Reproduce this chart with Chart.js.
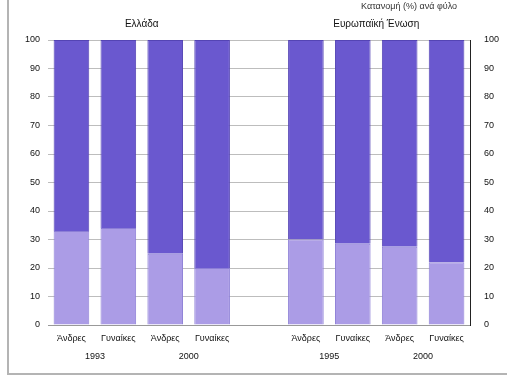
<!DOCTYPE html>
<html>
<head>
<meta charset="utf-8">
<script src="https://cdn.jsdelivr.net/npm/chart.js@4/dist/chart.umd.min.js"></script>
<style>
  html, body { margin: 0; padding: 0; background: #fff; }
  #wrap { position: relative; width: 508px; height: 379px; }
  #frame { position: absolute; left: 7px; top: 0; width: 498px; height: 373px;
           border-left: 2px solid #b4b4b4; border-bottom: 2px solid #b4b4b4; }
  canvas { position: absolute; left: 0; top: 0; }
</style>
</head>
<body>
<div id="wrap">
  <div id="frame"></div>
  <canvas id="chart" width="508" height="379"></canvas>
</div>
<script>
// per-bar labels (empty slot separates the two groups)
var categories = ["Άνδρες", "Γυναίκες", "Άνδρες", "Γυναίκες", "", "Άνδρες", "Γυναίκες", "Άνδρες", "Γυναίκες"];
var lowerShare = [33, 34, 25, 20, null, 30, 28.5, 27.5, 22];
var upperShare = [67, 66, 75, 80, null, 70, 71.5, 72.5, 78];

// years sit between each pair of bars
var yearLabels = ["1993", "2000", "1995", "2000"];
var yearPos = [0.5, 2.5, 5.5, 7.5];

var groupLabels = ["Ελλάδα", "Ευρωπαϊκή Ένωση"];
var groupPos = [1.5, 6.5];
var noteLabel = "Κατανομή (%) ανά φύλο";
var notePos = 7.2;

var yTicks = [0, 10, 20, 30, 40, 50, 60, 70, 80, 90, 100];

var font = { family: "Liberation Sans", size: 9 };

function fixedTicks(positions) {
  return function (scale) {
    scale.ticks = positions.map(function (v) { return { value: v }; });
  };
}
function labelAt(positions, labels) {
  return function (value) {
    var i = positions.indexOf(value);
    return i >= 0 ? labels[i] : "";
  };
}
// linear helper axes spanning the same range as the bar categories
function sideAxis(extra) {
  var base = {
    type: "linear",
    min: -0.5,
    max: 8.5,
    offset: false,
    grid: { display: false, drawTicks: false },
    border: { display: false }
  };
  return Object.assign(base, extra);
}

new Chart(document.getElementById("chart"), {
  type: "bar",
  data: {
    labels: categories,
    datasets: [
      {
        label: "lower",
        data: lowerShare,
        backgroundColor: "#ab9ce6",
        borderColor: "#8c7ed6",
        borderWidth: 1,
        barPercentage: 0.76,
        categoryPercentage: 1
      },
      {
        label: "upper",
        data: upperShare,
        backgroundColor: "#6a58cf",
        borderColor: "#5444b4",
        borderWidth: 1,
        barPercentage: 0.76,
        categoryPercentage: 1
      }
    ]
  },
  options: {
    responsive: false,
    animation: false,
    layout: { padding: { left: 12, right: 8, top: 1, bottom: 12 } },
    plugins: { legend: { display: false }, tooltip: { enabled: false } },
    scales: {
      x: {
        stacked: true,
        grid: { display: false, drawTicks: false },
        border: { color: "#999" },
        weight: 1,
        ticks: { color: "#111", font: font, autoSkip: false, maxRotation: 0, padding: 8 },
        afterFit: function (s) { s.height = 20; }
      },
      years: sideAxis({
        position: "bottom",
        weight: 2,
        afterBuildTicks: fixedTicks(yearPos),
        ticks: { color: "#111", font: font, autoSkip: false, maxRotation: 0, padding: 6,
                 callback: labelAt(yearPos, yearLabels) },
        afterFit: function (s) { s.height = 22; }
      }),
      groups: sideAxis({
        position: "top",
        weight: 1,
        afterBuildTicks: fixedTicks(groupPos),
        ticks: { color: "#111", font: { family: "Liberation Sans", size: 10 }, autoSkip: false,
                 maxRotation: 0, padding: 10, callback: labelAt(groupPos, groupLabels) },
        afterFit: function (s) { s.height = 22; }
      }),
      note: sideAxis({
        position: "top",
        weight: 2,
        afterBuildTicks: fixedTicks([notePos]),
        ticks: { color: "#333", font: font, autoSkip: false, maxRotation: 0, padding: 6,
                 callback: labelAt([notePos], [noteLabel]) },
        afterFit: function (s) { s.height = 17; }
      }),
      y: {
        stacked: true,
        min: 0,
        max: 100,
        afterBuildTicks: fixedTicks(yTicks),
        grid: { color: "#bdbdbd", drawTicks: false },
        border: { display: false },
        ticks: { color: "#111", font: font, padding: 8 },
        afterFit: function (s) { s.width = 36; }
      },
      yRight: {
        position: "right",
        min: 0,
        max: 100,
        afterBuildTicks: fixedTicks(yTicks),
        grid: { display: false },
        border: { color: "#222", width: 1 },
        ticks: { color: "#111", font: font, padding: 6 },
        afterFit: function (s) { s.width = 30; }
      }
    }
  }
});
</script>
</body>
</html>
